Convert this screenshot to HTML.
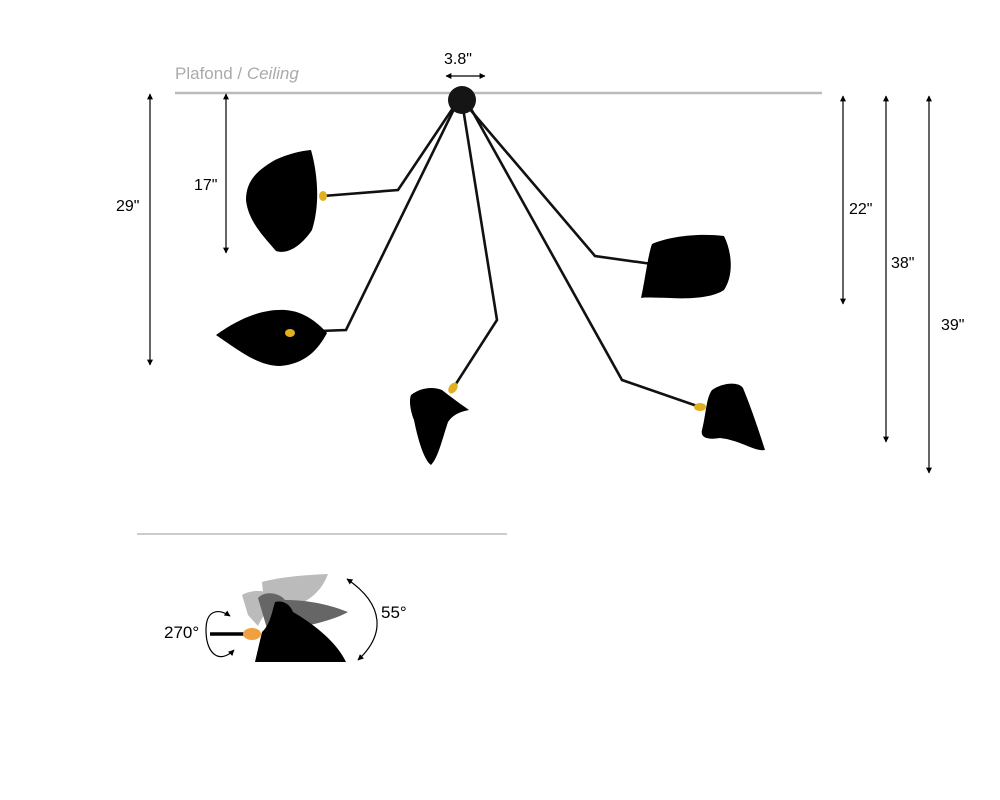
<!DOCTYPE html>
<html><head><style>
body{margin:0;background:#fff;}
svg{display:block}
text{font-family:"Liberation Sans",sans-serif;}
</style></head><body>
<svg width="1000" height="800" viewBox="0 0 1000 800" xmlns="http://www.w3.org/2000/svg">
<defs>
<marker id="a" viewBox="0 0 10 10" refX="9" refY="5" markerWidth="5" markerHeight="5" orient="auto-start-reverse"><path d="M0,0L10,5L0,10z" fill="#000"/></marker>
</defs>
<text x="175" y="79" font-size="17" fill="#aaa">Plafond / <tspan font-style="italic">Ceiling</tspan></text>
<line x1="175" y1="93" x2="822" y2="93" stroke="#bbb" stroke-width="2.5"/>
<text x="444" y="64" font-size="16">3.8"</text>
<line x1="446" y1="76" x2="485" y2="76" stroke="#000" stroke-width="1.2" marker-start="url(#a)" marker-end="url(#a)"/>
<line x1="150" y1="94" x2="150" y2="365" stroke="#000" stroke-width="1.2" marker-start="url(#a)" marker-end="url(#a)"/>
<text x="116" y="211" font-size="16">29"</text>
<line x1="226" y1="94" x2="226" y2="253" stroke="#000" stroke-width="1.2" marker-start="url(#a)" marker-end="url(#a)"/>
<text x="194" y="190" font-size="16">17"</text>
<line x1="843" y1="96" x2="843" y2="304" stroke="#000" stroke-width="1.2" marker-start="url(#a)" marker-end="url(#a)"/>
<text x="849" y="214" font-size="16">22"</text>
<line x1="886" y1="96" x2="886" y2="442" stroke="#000" stroke-width="1.2" marker-start="url(#a)" marker-end="url(#a)"/>
<text x="891" y="268" font-size="16">38"</text>
<line x1="929" y1="96" x2="929" y2="473" stroke="#000" stroke-width="1.2" marker-start="url(#a)" marker-end="url(#a)"/>
<text x="941" y="330" font-size="16">39"</text>
<g fill="none" stroke="#111" stroke-width="2.6">
<polyline points="455,105 398,190 323,196"/>
<polyline points="455,107 346,330 292,332"/>
<polyline points="463,108 497,320 452,390"/>
<polyline points="468,107 595,256 652,264"/>
<polyline points="470,107 622,380 700,407"/>
</g>
<circle cx="462" cy="100" r="14" fill="#151515"/>
<path d="M311,150 C318,175 320,205 312,230 C302,245 288,255 276,251 C262,235 248,220 246,200 C246,180 258,170 275,160 C288,154 300,151 311,150Z" fill="#000"/>
<ellipse cx="323" cy="196" rx="4" ry="5" fill="#e0b020"/>
<path d="M216,335 C240,318 262,309 285,310 C305,311 320,325 327,333 C318,350 305,364 280,366 C258,366 238,350 216,335Z" fill="#000"/>
<ellipse cx="290" cy="333" rx="5" ry="4" fill="#e0b020"/>
<path d="M411,395 C420,388 432,386 442,390 C452,398 462,405 469,410 C458,412 452,416 448,422 C442,440 438,458 431,465 C424,460 418,440 414,420 C410,410 409,400 411,395Z" fill="#000"/>
<ellipse cx="453" cy="388" rx="4" ry="6" transform="rotate(35 453 388)" fill="#e0b020"/>
<path d="M652,244 C670,236 700,233 724,236 C732,252 734,275 724,290 C712,298 690,299 670,298 C655,298 645,297 641,298 C645,280 648,255 652,244Z" fill="#000"/>
<path d="M712,390 C722,383 738,381 743,388 C750,405 757,425 765,450 C755,452 740,440 720,438 C708,440 700,438 702,430 C706,415 706,398 712,390Z" fill="#000"/>
<ellipse cx="700" cy="407" rx="6" ry="4" fill="#e0b020"/>
<line x1="137" y1="534" x2="507" y2="534" stroke="#999" stroke-width="1"/>
<path d="M262,582 C280,577 305,575 328,574 C322,590 312,598 300,604 L265,612Z" fill="#bbb"/>
<path d="M242,595 C250,590 262,590 270,593 C275,598 265,612 258,626 L248,615Z" fill="#bbb"/>
<path d="M258,598 C265,590 280,593 285,600 C310,600 330,605 348,612 C330,622 300,628 268,632Z" fill="#666"/>
<path d="M255,662 L262,632 C270,625 272,612 275,602 C283,600 290,604 293,612 C320,628 338,645 346,662Z" fill="#000"/>
<line x1="210" y1="634" x2="246" y2="634" stroke="#000" stroke-width="3.5"/>
<ellipse cx="252" cy="634" rx="9" ry="6" fill="#f0a040"/>
<path d="M347,579 C385,605 385,635 358,660" fill="none" stroke="#000" stroke-width="1.2" marker-start="url(#a)" marker-end="url(#a)"/>
<text x="381" y="618" font-size="17">55°</text>
<path d="M230,616 C218,608 206,610 206,630 C206,655 220,664 234,650" fill="none" stroke="#000" stroke-width="1.2" marker-start="url(#a)" marker-end="url(#a)"/>
<text x="164" y="638" font-size="17">270°</text>
</svg>
</body></html>
